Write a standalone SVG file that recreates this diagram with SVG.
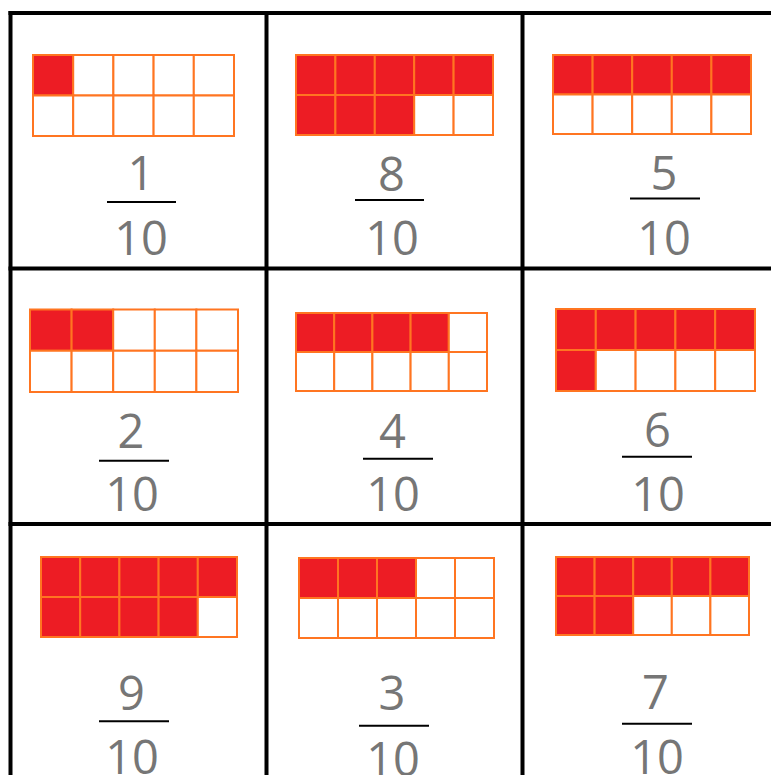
<svg xmlns="http://www.w3.org/2000/svg" width="771" height="775" viewBox="0 0 771 775">
<style>
.on{fill:#ED1C24;stroke:#FF7521;stroke-width:2}
.off{fill:#FFFFFF;stroke:#FF7521;stroke-width:2}
.num{font-family:"Open Sans","Noto Sans",sans-serif;font-size:47px;fill:#767676;text-anchor:middle}
.bar{stroke:#000;stroke-width:2}
.grid{stroke:#000;stroke-width:4;fill:none}
</style>
<rect width="771" height="775" fill="#fff"/>
<g id="grid">
<line class="grid" x1="8.5" y1="13" x2="771" y2="13"/>
<line class="grid" x1="8.5" y1="268.5" x2="771" y2="268.5"/>
<line class="grid" x1="8.5" y1="524" x2="771" y2="524"/>
<line class="grid" x1="10.5" y1="11" x2="10.5" y2="775"/>
<line class="grid" x1="266.5" y1="11" x2="266.5" y2="775"/>
<line class="grid" x1="522.5" y1="11" x2="522.5" y2="775"/>
</g>
<g id="cell1">
<rect class="on" x="33" y="55" width="40.2" height="40.5"/><rect class="off" x="73.2" y="55" width="40.2" height="40.5"/><rect class="off" x="113.4" y="55" width="40.2" height="40.5"/><rect class="off" x="153.6" y="55" width="40.2" height="40.5"/><rect class="off" x="193.8" y="55" width="40.2" height="40.5"/>
<rect class="off" x="33" y="95.5" width="40.2" height="40.5"/><rect class="off" x="73.2" y="95.5" width="40.2" height="40.5"/><rect class="off" x="113.4" y="95.5" width="40.2" height="40.5"/><rect class="off" x="153.6" y="95.5" width="40.2" height="40.5"/><rect class="off" x="193.8" y="95.5" width="40.2" height="40.5"/>
<text class="num" x="141" y="190">1</text>
<line class="bar" x1="107" y1="202" x2="176" y2="202"/>
<text class="num" x="141" y="255">10</text>
</g>
<g id="cell2">
<rect class="on" x="296" y="55" width="39.4" height="40"/><rect class="on" x="335.4" y="55" width="39.4" height="40"/><rect class="on" x="374.8" y="55" width="39.4" height="40"/><rect class="on" x="414.2" y="55" width="39.4" height="40"/><rect class="on" x="453.6" y="55" width="39.4" height="40"/>
<rect class="on" x="296" y="95" width="39.4" height="40"/><rect class="on" x="335.4" y="95" width="39.4" height="40"/><rect class="on" x="374.8" y="95" width="39.4" height="40"/><rect class="off" x="414.2" y="95" width="39.4" height="40"/><rect class="off" x="453.6" y="95" width="39.4" height="40"/>
<text class="num" x="391.5" y="190.5">8</text>
<line class="bar" x1="355" y1="200" x2="424" y2="200"/>
<text class="num" x="392" y="255">10</text>
</g>
<g id="cell3">
<rect class="on" x="553" y="55" width="39.6" height="39.5"/><rect class="on" x="592.6" y="55" width="39.6" height="39.5"/><rect class="on" x="632.2" y="55" width="39.6" height="39.5"/><rect class="on" x="671.8" y="55" width="39.6" height="39.5"/><rect class="on" x="711.4" y="55" width="39.6" height="39.5"/>
<rect class="off" x="553" y="94.5" width="39.6" height="39.5"/><rect class="off" x="592.6" y="94.5" width="39.6" height="39.5"/><rect class="off" x="632.2" y="94.5" width="39.6" height="39.5"/><rect class="off" x="671.8" y="94.5" width="39.6" height="39.5"/><rect class="off" x="711.4" y="94.5" width="39.6" height="39.5"/>
<text class="num" x="664" y="190">5</text>
<line class="bar" x1="630" y1="198.5" x2="700" y2="198.5"/>
<text class="num" x="664" y="255">10</text>
</g>
<g id="cell4">
<rect class="on" x="30" y="309.5" width="41.6" height="41.25"/><rect class="on" x="71.6" y="309.5" width="41.6" height="41.25"/><rect class="off" x="113.2" y="309.5" width="41.6" height="41.25"/><rect class="off" x="154.8" y="309.5" width="41.6" height="41.25"/><rect class="off" x="196.4" y="309.5" width="41.6" height="41.25"/>
<rect class="off" x="30" y="350.75" width="41.6" height="41.25"/><rect class="off" x="71.6" y="350.75" width="41.6" height="41.25"/><rect class="off" x="113.2" y="350.75" width="41.6" height="41.25"/><rect class="off" x="154.8" y="350.75" width="41.6" height="41.25"/><rect class="off" x="196.4" y="350.75" width="41.6" height="41.25"/>
<text class="num" x="131" y="448">2</text>
<line class="bar" x1="99" y1="460.7" x2="169" y2="460.7"/>
<text class="num" x="132" y="510.7">10</text>
</g>
<g id="cell5">
<rect class="on" x="296" y="313" width="38.2" height="39"/><rect class="on" x="334.2" y="313" width="38.2" height="39"/><rect class="on" x="372.4" y="313" width="38.2" height="39"/><rect class="on" x="410.6" y="313" width="38.2" height="39"/><rect class="off" x="448.8" y="313" width="38.2" height="39"/>
<rect class="off" x="296" y="352" width="38.2" height="39"/><rect class="off" x="334.2" y="352" width="38.2" height="39"/><rect class="off" x="372.4" y="352" width="38.2" height="39"/><rect class="off" x="410.6" y="352" width="38.2" height="39"/><rect class="off" x="448.8" y="352" width="38.2" height="39"/>
<text class="num" x="392.5" y="448">4</text>
<line class="bar" x1="363" y1="458.7" x2="433" y2="458.7"/>
<text class="num" x="393" y="510.7">10</text>
</g>
<g id="cell6">
<rect class="on" x="556" y="309" width="39.8" height="41"/><rect class="on" x="595.8" y="309" width="39.8" height="41"/><rect class="on" x="635.6" y="309" width="39.8" height="41"/><rect class="on" x="675.4" y="309" width="39.8" height="41"/><rect class="on" x="715.2" y="309" width="39.8" height="41"/>
<rect class="on" x="556" y="350" width="39.8" height="41"/><rect class="off" x="595.8" y="350" width="39.8" height="41"/><rect class="off" x="635.6" y="350" width="39.8" height="41"/><rect class="off" x="675.4" y="350" width="39.8" height="41"/><rect class="off" x="715.2" y="350" width="39.8" height="41"/>
<text class="num" x="657.5" y="447.3">6</text>
<line class="bar" x1="622" y1="456.7" x2="692" y2="456.7"/>
<text class="num" x="658" y="510.7">10</text>
</g>
<g id="cell7">
<rect class="on" x="41" y="557" width="39.2" height="40"/><rect class="on" x="80.2" y="557" width="39.2" height="40"/><rect class="on" x="119.4" y="557" width="39.2" height="40"/><rect class="on" x="158.6" y="557" width="39.2" height="40"/><rect class="on" x="197.8" y="557" width="39.2" height="40"/>
<rect class="on" x="41" y="597" width="39.2" height="40"/><rect class="on" x="80.2" y="597" width="39.2" height="40"/><rect class="on" x="119.4" y="597" width="39.2" height="40"/><rect class="on" x="158.6" y="597" width="39.2" height="40"/><rect class="off" x="197.8" y="597" width="39.2" height="40"/>
<text class="num" x="131.5" y="710">9</text>
<line class="bar" x1="99" y1="721.3" x2="169" y2="721.3"/>
<text class="num" x="132" y="774">10</text>
</g>
<g id="cell8">
<rect class="on" x="299" y="558" width="39" height="40"/><rect class="on" x="338" y="558" width="39" height="40"/><rect class="on" x="377" y="558" width="39" height="40"/><rect class="off" x="416" y="558" width="39" height="40"/><rect class="off" x="455" y="558" width="39" height="40"/>
<rect class="off" x="299" y="598" width="39" height="40"/><rect class="off" x="338" y="598" width="39" height="40"/><rect class="off" x="377" y="598" width="39" height="40"/><rect class="off" x="416" y="598" width="39" height="40"/><rect class="off" x="455" y="598" width="39" height="40"/>
<text class="num" x="392" y="710">3</text>
<line class="bar" x1="359" y1="725.7" x2="429" y2="725.7"/>
<text class="num" x="393" y="775.7">10</text>
</g>
<g id="cell9">
<rect class="on" x="556" y="557" width="38.6" height="39"/><rect class="on" x="594.6" y="557" width="38.6" height="39"/><rect class="on" x="633.2" y="557" width="38.6" height="39"/><rect class="on" x="671.8" y="557" width="38.6" height="39"/><rect class="on" x="710.4" y="557" width="38.6" height="39"/>
<rect class="on" x="556" y="596" width="38.6" height="39"/><rect class="on" x="594.6" y="596" width="38.6" height="39"/><rect class="off" x="633.2" y="596" width="38.6" height="39"/><rect class="off" x="671.8" y="596" width="38.6" height="39"/><rect class="off" x="710.4" y="596" width="38.6" height="39"/>
<text class="num" x="655.5" y="709">7</text>
<line class="bar" x1="622" y1="723.7" x2="692" y2="723.7"/>
<text class="num" x="657" y="774">10</text>
</g>
</svg>
